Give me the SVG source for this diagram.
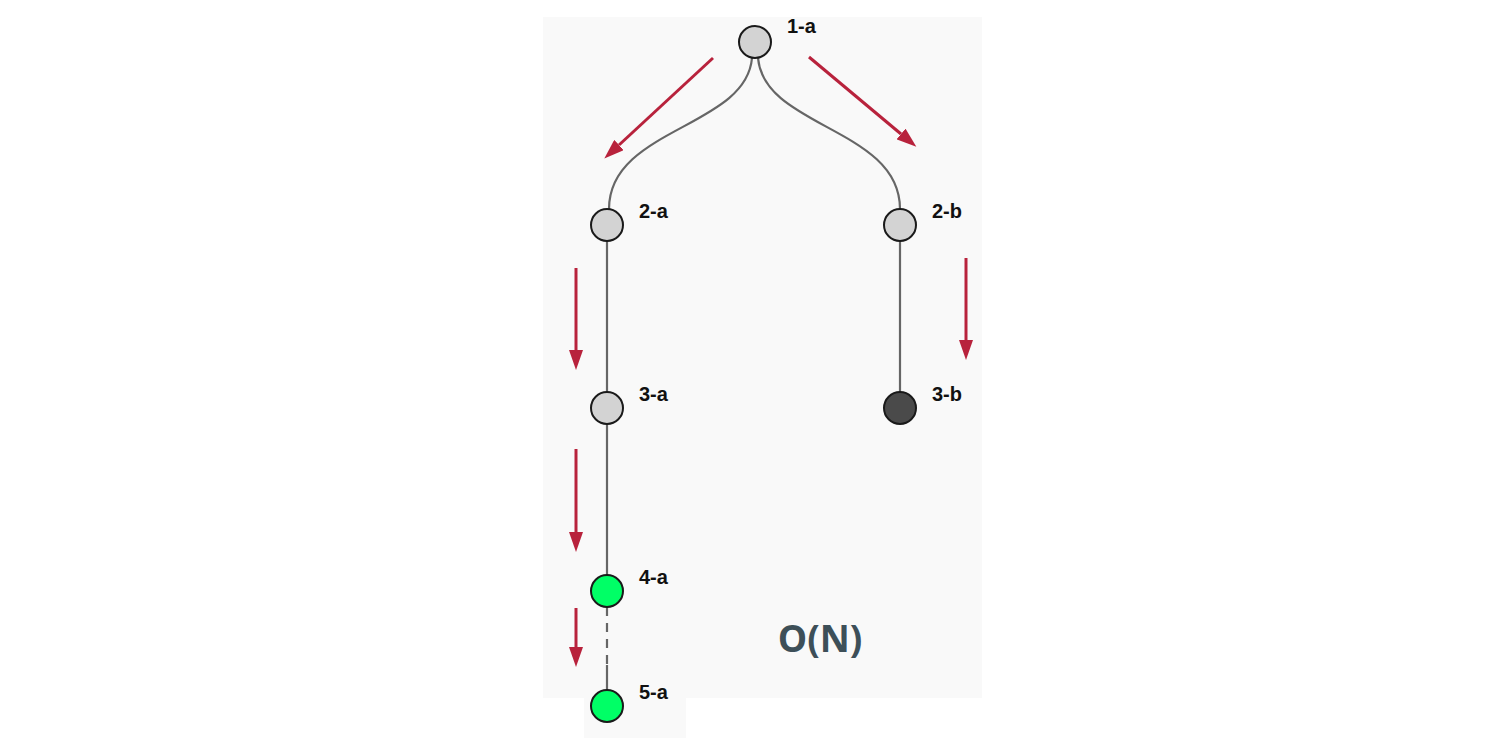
<svg xmlns="http://www.w3.org/2000/svg" width="1491" height="745" viewBox="0 0 1491 745">
<style>
.node{stroke:#1a1a1a;stroke-width:2}
.g{fill:#d3d3d3}
.dk{fill:#4a4a4a}
.gr{fill:#00ff66}
.lbl{font-family:"Liberation Sans",Arial,sans-serif;font-weight:bold;font-size:20px;fill:#111}
.edge{fill:none;stroke:#666;stroke-width:2.2}
.arr{fill:none;stroke:#b8223c;stroke-width:3;marker-end:url(#ah)}
</style>
<defs>
<marker id="ah" markerWidth="20" markerHeight="14" refX="0" refY="7" orient="auto" markerUnits="userSpaceOnUse" viewBox="0 0 20 14">
<path d="M0,0 L20,7 L0,14 Z" fill="#b8223c"/>
</marker>
</defs>
<rect width="1491" height="745" fill="#ffffff"/>
<rect x="543" y="17" width="439" height="681" fill="#f9f9f9"/>
<rect x="584" y="698" width="102" height="40" fill="#f9f9f9"/>
<g id="connectors">
<path class="edge" d="M752,58 C746,128 609,128 609,209"/>
<path class="edge" d="M758,58 C764,128 900,128 900,209"/>
<line class="edge" x1="607" y1="241" x2="607" y2="392"/>
<line class="edge" x1="900" y1="241" x2="900" y2="392"/>
<line class="edge" x1="607" y1="424" x2="607" y2="575"/>
<line class="edge" x1="607" y1="607" x2="607" y2="665" stroke-dasharray="9,7" stroke="#555" stroke-width="2.5"/>
<line class="edge" x1="607" y1="665" x2="607" y2="690"/>
<line class="arr" x1="713" y1="58" x2="619" y2="145"/>
<line class="arr" x1="809" y1="57" x2="901" y2="134"/>
<line class="arr" x1="576" y1="268" x2="576" y2="350"/>
<line class="arr" x1="966" y1="258" x2="966" y2="340"/>
<line class="arr" x1="576" y1="449" x2="576" y2="532"/>
<line class="arr" x1="576" y1="608" x2="576" y2="647"/>
</g>
<g id="n1a"><circle class="node g" cx="755" cy="42" r="16"/><text class="lbl" x="787" y="33">1-a</text></g>
<g id="n2a"><circle class="node g" cx="607" cy="225" r="16"/><text class="lbl" x="639" y="218">2-a</text></g>
<g id="n2b"><circle class="node g" cx="900" cy="225" r="16"/><text class="lbl" x="932" y="218">2-b</text></g>
<g id="n3a"><circle class="node g" cx="607" cy="408" r="16"/><text class="lbl" x="639" y="401">3-a</text></g>
<g id="n3b"><circle class="node dk" cx="900" cy="408" r="16"/><text class="lbl" x="932" y="401">3-b</text></g>
<g id="n4a"><circle class="node gr" cx="607" cy="591" r="16"/><text class="lbl" x="639" y="584">4-a</text></g>
<g id="n5a"><circle class="node gr" cx="607" cy="706" r="16"/><text class="lbl" x="639" y="699">5-a</text></g>
<text x="820" y="652" text-anchor="middle" font-family="'Open Sans','Liberation Sans',sans-serif" font-weight="bold" font-size="37" fill="#3d4f58">O(N)</text>
</svg>
